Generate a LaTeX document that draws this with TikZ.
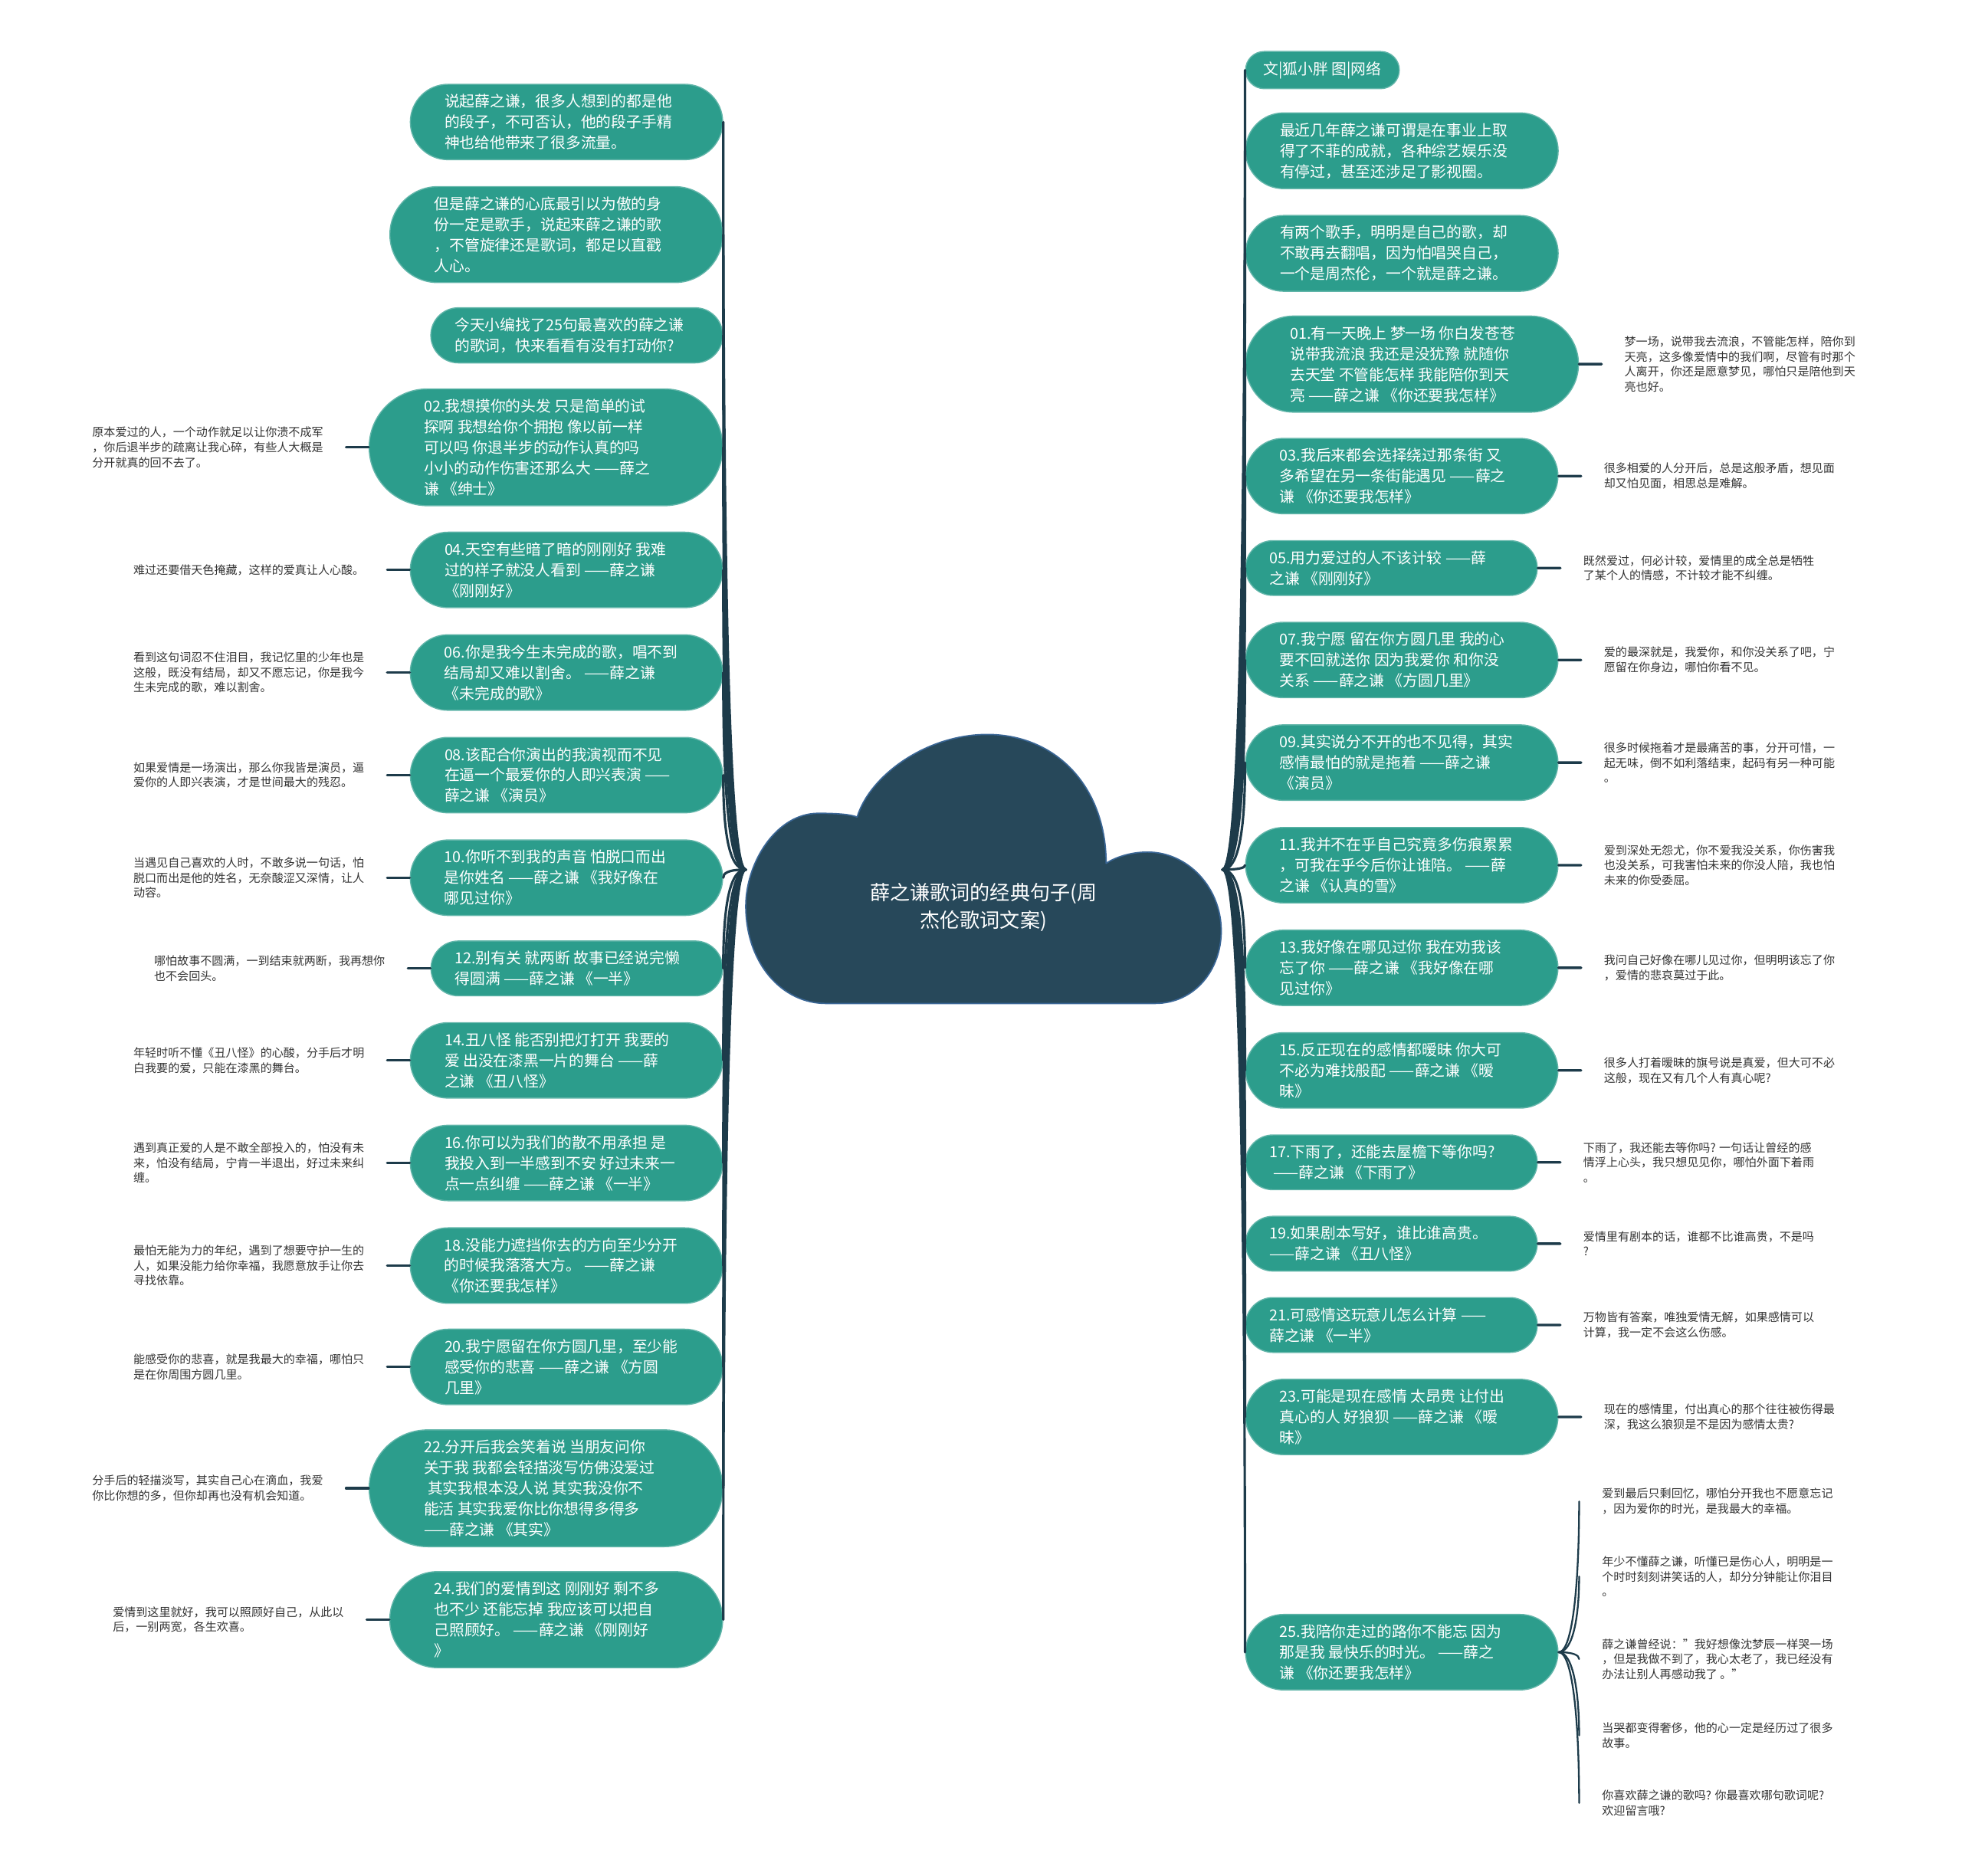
\documentclass[tikz,border=0pt]{standalone}
\usepackage{fontspec}
\setmainfont{Noto Sans CJK SC}
\usetikzlibrary{positioning,shapes.misc}
\definecolor{nodeteal}{HTML}{2C9D8C}
\definecolor{clouddark}{HTML}{27485A}
\definecolor{cloudedge}{HTML}{3A6695}
\definecolor{linkdark}{HTML}{1D3B4A}
\definecolor{leafgray}{HTML}{333333}
\begin{document}
\begin{tikzpicture}[x=0.02cm,y=-0.02cm,line cap=round,line join=round,
  gnode/.style={rounded rectangle,fill=nodeteal,draw=nodeteal!75!white,line width=0.5pt,
    text=white,inner xsep=#1,inner ysep=0.16cm,align=flush left,font=\fontsize{6.9}{9.4}\selectfont},
  gnode/.default=0.353cm,
  gwide/.style={gnode=#1,text width=3.9cm},
  gwide/.default=0.353cm,
  leaf/.style={inner xsep=0.36cm,inner ysep=0pt,align=left,text=leafgray,
    font=\fontsize{5.25}{6.85}\selectfont},
  trunk/.style={draw=linkdark,line width=1.1pt},
  twig/.style={draw=linkdark,line width=1.2pt},
  fork/.style={draw=linkdark,line width=0.8pt}]
  \useasboundingbox (0,0) rectangle (1568,1499);
  \coordinate (lo) at (596,695);
  \coordinate (ro) at (977,695);

  \node[gwide,anchor=east] (la) at (578,97.5) {说起薛之谦，很多人想到的都是他\\的段子，不可否认，他的段子手精\\神也给他带来了很多流量。};
  \node[gwide=0.412cm,anchor=east] (lb) at (578,187.5) {但是薛之谦的心底最引以为傲的身\\份一定是歌手，说起来薛之谦的歌\\，不管旋律还是歌词，都足以直戳\\人心。};
  \node[gwide=0.282cm,anchor=east] (lc) at (578,268) {今天小编找了25句最喜欢的薛之谦\\的歌词，快来看看有没有打动你?};
  \node[gwide=0.465cm,anchor=east] (q02) at (578,357.5) {02.我想摸你的头发 只是简单的试\\探啊 我想给你个拥抱 像以前一样\\可以吗 你退半步的动作认真的吗\\小小的动作伤害还那么大 ——薛之\\谦 《绅士》};
  \node[gwide,anchor=east] (q04) at (578,455.5) {04.天空有些暗了暗的刚刚好 我难\\过的样子就没人看到 ——薛之谦\\《刚刚好》};
  \node[gwide,anchor=east] (q06) at (578,537.5) {06.你是我今生未完成的歌，唱不到\\结局却又难以割舍。 ——薛之谦\\《未完成的歌》};
  \node[gwide,anchor=east] (q08) at (578,619.5) {08.该配合你演出的我演视而不见\\在逼一个最爱你的人即兴表演 ——\\薛之谦 《演员》};
  \node[gwide,anchor=east] (q10) at (578,701.5) {10.你听不到我的声音 怕脱口而出\\是你姓名 ——薛之谦 《我好像在\\哪见过你》};
  \node[gwide=0.282cm,anchor=east] (q12) at (578,774) {12.别有关 就两断 故事已经说完懒\\得圆满 ——薛之谦 《一半》};
  \node[gwide,anchor=east] (q14) at (578,847.5) {14.丑八怪 能否别把灯打开 我要的\\爱 出没在漆黑一片的舞台 ——薛\\之谦 《丑八怪》};
  \node[gwide,anchor=east] (q16) at (578,929.5) {16.你可以为我们的散不用承担 是\\我投入到一半感到不安 好过未来一\\点一点纠缠 ——薛之谦 《一半》};
  \node[gwide,anchor=east] (q18) at (578,1011.5) {18.没能力遮挡你去的方向至少分开\\的时候我落落大方。 ——薛之谦\\《你还要我怎样》};
  \node[gwide,anchor=east] (q20) at (578,1092.5) {20.我宁愿留在你方圆几里，至少能\\感受你的悲喜 ——薛之谦 《方圆\\几里》};
  \node[gwide=0.465cm,anchor=east] (q22) at (578,1189.5) {22.分开后我会笑着说 当朋友问你\\关于我 我都会轻描淡写仿佛没爱过\\\hspace*{0.25em}其实我根本没人说 其实我没你不\\能活 其实我爱你比你想得多得多\\——薛之谦 《其实》};
  \node[gwide=0.412cm,anchor=east] (q24) at (578,1294.5) {24.我们的爱情到这 刚刚好 剩不多\\也不少 还能忘掉 我应该可以把自\\己照顾好。 ——薛之谦 《刚刚好\\》};

  \node[leaf,left=0.36cm of q02] (m02) {原本爱过的人，一个动作就足以让你溃不成军\\，你后退半步的疏离让我心碎，有些人大概是\\分开就真的回不去了。};
  \node[leaf,left=0.36cm of q04] (m04) {难过还要借天色掩藏，这样的爱真让人心酸。};
  \node[leaf,left=0.36cm of q06] (m06) {看到这句词忍不住泪目，我记忆里的少年也是\\这般，既没有结局，却又不愿忘记，你是我今\\生未完成的歌，难以割舍。};
  \node[leaf,left=0.36cm of q08] (m08) {如果爱情是一场演出，那么你我皆是演员，逼\\爱你的人即兴表演，才是世间最大的残忍。};
  \node[leaf,left=0.36cm of q10] (m10) {当遇见自己喜欢的人时，不敢多说一句话，怕\\脱口而出是他的姓名，无奈酸涩又深情，让人\\动容。};
  \node[leaf,left=0.36cm of q12] (m12) {哪怕故事不圆满，一到结束就两断，我再想你\\也不会回头。};
  \node[leaf,left=0.36cm of q14] (m14) {年轻时听不懂《丑八怪》的心酸，分手后才明\\白我要的爱，只能在漆黑的舞台。};
  \node[leaf,left=0.36cm of q16] (m16) {遇到真正爱的人是不敢全部投入的，怕没有未\\来，怕没有结局，宁肯一半退出，好过未来纠\\缠。};
  \node[leaf,left=0.36cm of q18] (m18) {最怕无能为力的年纪，遇到了想要守护一生的\\人，如果没能力给你幸福，我愿意放手让你去\\寻找依靠。};
  \node[leaf,left=0.36cm of q20] (m20) {能感受你的悲喜，就是我最大的幸福，哪怕只\\是在你周围方圆几里。};
  \node[leaf,left=0.36cm of q22] (m22) {分手后的轻描淡写，其实自己心在滴血，我爱\\你比你想的多，但你却再也没有机会知道。};
  \node[leaf,left=0.36cm of q24] (m24) {爱情到这里就好，我可以照顾好自己，从此以\\后，一别两宽，各生欢喜。};

  \node[gnode=0.254cm,anchor=west] (ra) at (995,56) {文|狐小胖 图|网络};
  \node[gwide,anchor=west] (rb) at (995,120.5) {最近几年薛之谦可谓是在事业上取\\得了不菲的成就，各种综艺娱乐没\\有停过，甚至还涉足了影视圈。};
  \node[gwide,anchor=west] (rc) at (995,202.5) {有两个歌手，明明是自己的歌，却\\不敢再去翻唱，因为怕唱哭自己，\\一个是周杰伦，一个就是薛之谦。};
  \node[gwide=0.412cm,anchor=west] (q01) at (995,291) {01.有一天晚上 梦一场 你白发苍苍\\说带我流浪 我还是没犹豫 就随你\\去天堂 不管能怎样 我能陪你到天\\亮 ——薛之谦 《你还要我怎样》};
  \node[gwide,anchor=west] (q03) at (995,380.5) {03.我后来都会选择绕过那条街 又\\多希望在另一条街能遇见 ——薛之\\谦 《你还要我怎样》};
  \node[gwide=0.282cm,anchor=west] (q05) at (995,454) {05.用力爱过的人不该计较 ——薛\\之谦 《刚刚好》};
  \node[gwide,anchor=west] (q07) at (995,527.5) {07.我宁愿 留在你方圆几里 我的心\\要不回就送你 因为我爱你 和你没\\关系 ——薛之谦 《方圆几里》};
  \node[gwide,anchor=west] (q09) at (995,609.5) {09.其实说分不开的也不见得，其实\\感情最怕的就是拖着 ——薛之谦\\《演员》};
  \node[gwide,anchor=west] (q11) at (995,691.5) {11.我并不在乎自己究竟多伤痕累累\\，可我在乎今后你让谁陪。 ——薛\\之谦 《认真的雪》};
  \node[gwide,anchor=west] (q13) at (995,773.5) {13.我好像在哪见过你 我在劝我该\\忘了你 ——薛之谦 《我好像在哪\\见过你》};
  \node[gwide,anchor=west] (q15) at (995,855.5) {15.反正现在的感情都暧昧 你大可\\不必为难找般配 ——薛之谦 《暧\\昧》};
  \node[gwide=0.282cm,anchor=west] (q17) at (995,929) {17.下雨了，还能去屋檐下等你吗?\\\hspace*{0.25em}——薛之谦 《下雨了》};
  \node[gwide=0.282cm,anchor=west] (q19) at (995,994) {19.如果剧本写好，谁比谁高贵。\\——薛之谦 《丑八怪》};
  \node[gwide=0.282cm,anchor=west] (q21) at (995,1059) {21.可感情这玩意儿怎么计算 ——\\薛之谦 《一半》};
  \node[gwide,anchor=west] (q23) at (995,1132.5) {23.可能是现在感情 太昂贵 让付出\\真心的人 好狼狈 ——薛之谦 《暧\\昧》};
  \node[gwide,anchor=west] (q25) at (995,1320.5) {25.我陪你走过的路你不能忘 因为\\那是我 最快乐的时光。 ——薛之\\谦 《你还要我怎样》};

  \node[leaf,right=0.36cm of q01] (m01) {梦一场，说带我去流浪，不管能怎样，陪你到\\天亮，这多像爱情中的我们啊，尽管有时那个\\人离开，你还是愿意梦见，哪怕只是陪他到天\\亮也好。};
  \node[leaf,right=0.36cm of q03] (m03) {很多相爱的人分开后，总是这般矛盾，想见面\\却又怕见面，相思总是难解。};
  \node[leaf,right=0.36cm of q05] (m05) {既然爱过，何必计较，爱情里的成全总是牺牲\\了某个人的情感，不计较才能不纠缠。};
  \node[leaf,right=0.36cm of q07] (m07) {爱的最深就是，我爱你，和你没关系了吧，宁\\愿留在你身边，哪怕你看不见。};
  \node[leaf,right=0.36cm of q09] (m09) {很多时候拖着才是最痛苦的事，分开可惜，一\\起无味，倒不如利落结束，起码有另一种可能\\。};
  \node[leaf,right=0.36cm of q11] (m11) {爱到深处无怨尤，你不爱我没关系，你伤害我\\也没关系，可我害怕未来的你没人陪，我也怕\\未来的你受委屈。};
  \node[leaf,right=0.36cm of q13] (m13) {我问自己好像在哪儿见过你，但明明该忘了你\\，爱情的悲哀莫过于此。};
  \node[leaf,right=0.36cm of q15] (m15) {很多人打着暧昧的旗号说是真爱，但大可不必\\这般，现在又有几个人有真心呢?};
  \node[leaf,right=0.36cm of q17] (m17) {下雨了，我还能去等你吗? 一句话让曾经的感\\情浮上心头，我只想见见你，哪怕外面下着雨\\。};
  \node[leaf,right=0.36cm of q19] (m19) {爱情里有剧本的话，谁都不比谁高贵，不是吗\\?};
  \node[leaf,right=0.36cm of q21] (m21) {万物皆有答案，唯独爱情无解，如果感情可以\\计算，我一定不会这么伤感。};
  \node[leaf,right=0.36cm of q23] (m23) {现在的感情里，付出真心的那个往往被伤得最\\深，我这么狼狈是不是因为感情太贵?};
  \node[leaf,anchor=west] (m25a) at (1262,1200) {爱到最后只剩回忆，哪怕分开我也不愿意忘记\\，因为爱你的时光，是我最大的幸福。};
  \node[leaf,anchor=west] (m25b) at (1262,1260) {年少不懂薛之谦，听懂已是伤心人，明明是一\\个时时刻刻讲笑话的人，却分分钟能让你泪目\\。};
  \node[leaf,anchor=west] (m25c) at (1262,1326) {薛之谦曾经说："我好想像沈梦辰一样哭一场\\，但是我做不到了，我心太老了，我已经没有\\办法让别人再感动我了 。"};
  \node[leaf,anchor=west] (m25d) at (1262,1387) {当哭都变得奢侈，他的心一定是经历过了很多\\故事。};
  \node[leaf,anchor=west] (m25e) at (1262,1441) {你喜欢薛之谦的歌吗? 你最喜欢哪句歌词呢?\\欢迎留言哦?};

  \foreach \n/\y in {la/97.5,lb/187.5,lc/268,q02/357.5,q04/455.5,q06/537.5,q08/619.5,q10/701.5,
    q12/774,q14/847.5,q16/929.5,q18/1011.5,q20/1092.5,q22/1189.5,q24/1294.5}
    \draw[trunk] (lo) .. controls +(-15,0) and +(0,{(695-\y)/2}) .. (\n.east);
  \foreach \n/\y in {ra/56,rb/120.5,rc/202.5,q01/291,q03/380.5,q05/454,q07/527.5,q09/609.5,
    q11/691.5,q13/773.5,q15/855.5,q17/929,q19/994,q21/1059,q23/1132.5,q25/1320.5}
    \draw[trunk] (ro) .. controls +(15,0) and +(0,{(695-\y)/2}) .. (\n.west);
  \foreach \k in {02,04,06,08,10,12,14,16,18,20,22,24}
    \draw[twig] (m\k) -- (q\k);
  \foreach \k in {01,03,05,07,09,11,13,15,17,19,21,23}
    \draw[twig] (q\k) -- (m\k);
  \foreach \k/\d in {a/60,b/30,c/-3,d/-33,e/-60}
    \draw[fork] (q25.east) .. controls +(12,0) and +(0,\d) .. (m25\k.west);

  \fill[clouddark,draw=cloudedge,line width=0.6pt] (660,802) -- (923,802)
    .. controls (955,802) and (976,775) .. (976,744)
    .. controls (976,710) and (950,681) .. (917,681)
    .. controls (902,681) and (890,686) .. (884,690)
    .. controls (884,630) and (845,587) .. (789,587)
    .. controls (740,587) and (695,620) .. (685,653)
    .. controls (680,651) and (670,650) .. (654,650)
    .. controls (620,650) and (596,690) .. (596,724)
    .. controls (596,770) and (625,802) .. (660,802) -- cycle;
  \node[text=white,align=center,font=\fontsize{9.1}{12.5}\selectfont] (title) at (786,725) {薛之谦歌词的经典句子(周\\杰伦歌词文案)};
\end{tikzpicture}
\end{document}
